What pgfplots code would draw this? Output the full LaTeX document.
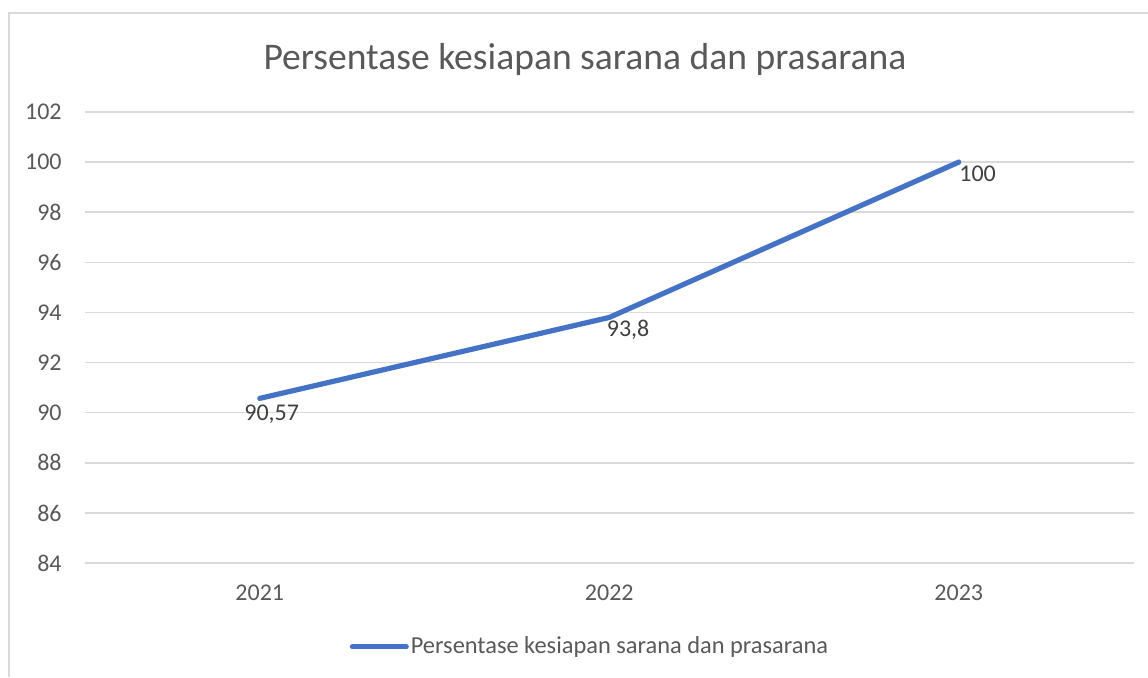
\documentclass[border=0pt]{standalone}
\usepackage{fontspec}
\setmainfont{Carlito}
\usepackage{pgfplots}
\pgfplotsset{compat=1.18}
\usepackage{pgfplotstable}

\definecolor{txt}{HTML}{595959}
\definecolor{lbl}{HTML}{404040}
\definecolor{gridc}{HTML}{D9D9D9}
\definecolor{series}{HTML}{4472C4}

% year index, value, data label, label shifts (pt)
\pgfplotstableread{
x y lbl dx dy
0 90.57 {90,57} -9 -2
1 93.8  {93,8}  -2.5 0
2 100   {100}   -1 -0.5
}\datatable

\begin{document}
\begin{tikzpicture}
\useasboundingbox (0,0) rectangle (574pt,338.5pt);
\draw[gridc, line width=0.75pt] (4.5pt,0) -- (4.5pt,332pt) -- (580pt,332pt);
\begin{axis}[
    at={(42.5pt,57pt)}, anchor=south west,
    scale only axis,
    width=524.25pt, height=225.5pt,
    xmin=-0.5, xmax=2.5,
    ymin=84, ymax=102,
    xtick=data,
    xticklabels={2021,2022,2023},
    ytick={84,86,...,102},
    axis line style={draw=none},
    major tick length=0pt,
    ymajorgrids=true, xmajorgrids=false,
    major grid style={gridc, line width=0.75pt},
    /pgf/number format/assume math mode=true,
    tick label style={font=\fontsize{12pt}{14pt}\selectfont, text=txt, inner sep=0pt},
    yticklabel style={anchor=east, xshift=-11.5pt},
    xticklabel style={anchor=north, yshift=-11pt},
    legend style={at={(0.4816,-0.186)}, anchor=center, draw=none, fill=none,
        font=\fontsize{12.2pt}{14pt}\selectfont, text=txt,
        legend cell align=left, inner sep=0pt,
        nodes={inner sep=1pt}},
    legend image code/.code={\draw[line width=2.5pt, line cap=round] (0pt,0pt) -- (27pt,0pt);},
    clip=false,
]
\addplot[series, line width=2.6pt, line cap=round, line join=round,
    nodes near coords,
    point meta=explicit symbolic,
    visualization depends on={\thisrow{dx}\as\dx},
    visualization depends on={\thisrow{dy}\as\dy},
    every node near coord/.append style={anchor=north west, inner sep=0pt,
        xshift=\dx pt, yshift=\dy pt, text=lbl, font=\fontsize{12pt}{14pt}\selectfont},
] table[x=x, y=y, meta=lbl] {\datatable};
\addlegendentry{Persentase kesiapan sarana dan prasarana}
\end{axis}
\node[anchor=base, text=txt, font=\fontsize{18.8pt}{22pt}\selectfont] at (292.5pt,304pt) {Persentase kesiapan sarana dan prasarana};
\end{tikzpicture}
\end{document}
